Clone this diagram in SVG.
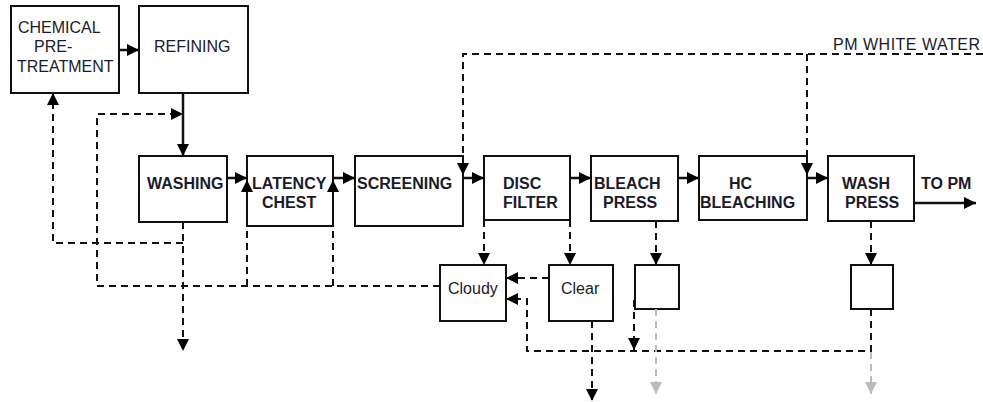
<svg xmlns="http://www.w3.org/2000/svg" width="983" height="402" viewBox="0 0 983 402">
<style>
.box{fill:#fff;stroke:#111;stroke-width:2}
.t{font-family:"Liberation Sans",Arial,sans-serif;font-size:16px;fill:#1a1a2a}
.b{font-weight:bold}
.s{fill:none;stroke:#111;stroke-width:2.5}
.d{fill:none;stroke:#111;stroke-width:2;stroke-dasharray:7,5}
.g{fill:none;stroke:#bbb;stroke-width:2;stroke-dasharray:7,5}
</style>
<defs>
<marker id="a" viewBox="0 0 10 10" refX="10" refY="5" markerWidth="12" markerHeight="12" markerUnits="userSpaceOnUse" orient="auto"><path d="M0,0 L10,5 L0,10 z" fill="#000"/></marker>
<marker id="ag" viewBox="0 0 10 10" refX="10" refY="5" markerWidth="12" markerHeight="12" markerUnits="userSpaceOnUse" orient="auto"><path d="M0,0 L10,5 L0,10 z" fill="#bbb"/></marker>
</defs>
<rect width="983" height="402" fill="#fff"/>
<g id="chemical-pretreatment"><rect class="box" x="11" y="6" width="108" height="87"/><text class="t" x="18" y="33">CHEMICAL</text><text class="t" x="34" y="52">PRE-</text><text class="t" x="17" y="72">TREATMENT</text></g>
<g id="refining"><rect class="box" x="139" y="6" width="109" height="87"/><text class="t" x="154" y="52">REFINING</text></g>
<g id="washing"><rect class="box" x="139" y="156" width="88" height="66"/><text class="t b" x="147" y="189">WASHING</text></g>
<g id="latency-chest"><rect class="box" x="247" y="156" width="86" height="70"/><text class="t b" x="252" y="189">LATENCY</text><text class="t b" x="262" y="208">CHEST</text></g>
<g id="screening"><rect class="box" x="355" y="156" width="108" height="70"/><text class="t b" x="357" y="189">SCREENING</text></g>
<g id="disc-filter"><rect class="box" x="484" y="156" width="86" height="64"/><text class="t b" x="503" y="189">DISC</text><text class="t b" x="503" y="208">FILTER</text></g>
<g id="bleach-press"><rect class="box" x="591" y="156" width="87" height="65"/><text class="t b" x="594" y="189">BLEACH</text><text class="t b" x="603" y="208">PRESS</text></g>
<g id="hc-bleaching"><rect class="box" x="699" y="156" width="108" height="64"/><text class="t b" x="729" y="189">HC</text><text class="t b" x="700" y="208">BLEACHING</text></g>
<g id="wash-press"><rect class="box" x="828" y="156" width="86" height="65"/><text class="t b" x="842" y="189">WASH</text><text class="t b" x="845" y="208">PRESS</text></g>
<g id="to-pm"><text class="t b" x="921" y="189">TO PM</text></g>
<g id="pm-white-water"><text class="t" x="833" y="50" textLength="147">PM WHITE WATER</text></g>
<g id="cloudy"><rect class="box" x="440" y="265" width="66" height="56"/><text class="t" x="448" y="294">Cloudy</text></g>
<g id="clear"><rect class="box" x="549" y="265" width="64" height="56"/><text class="t" x="561" y="294">Clear</text></g>
<g id="bleach-tank"><rect class="box" x="635" y="265" width="44" height="44"/></g>
<g id="wash-tank"><rect class="box" x="851" y="265" width="42" height="44"/></g>
<g id="connectors">
<path class="s" d="M119,50 H139" marker-end="url(#a)"/>
<path class="s" d="M183,93 V156" marker-end="url(#a)"/>
<path class="s" d="M227,178 H247" marker-end="url(#a)"/>
<path class="s" d="M334,178 H355" marker-end="url(#a)"/>
<path class="s" d="M463,178 H484" marker-end="url(#a)"/>
<path class="s" d="M570,178 H591" marker-end="url(#a)"/>
<path class="s" d="M678,178 H699" marker-end="url(#a)"/>
<path class="s" d="M807,178 H828" marker-end="url(#a)"/>
<path class="s" d="M914,203 H976" marker-end="url(#a)"/>
<path class="d" d="M183,222 V351" marker-end="url(#a)"/>
<path class="d" d="M183,243 H53 V93" marker-end="url(#a)"/>
<path class="d" d="M440,286 H97 V114 H183" marker-end="url(#a)"/>
<path class="d" d="M247,286 V180" marker-end="url(#a)"/>
<path class="d" d="M333,286 V180" marker-end="url(#a)"/>
<path class="d" d="M983,54 H463 V175" marker-end="url(#a)"/>
<path class="d" d="M807,54 V175" marker-end="url(#a)"/>
<path class="d" d="M484,220 V265" marker-end="url(#a)"/>
<path class="d" d="M570,220 V265" marker-end="url(#a)"/>
<path class="d" d="M549,278 H506" marker-end="url(#a)"/>
<path class="d" d="M656,221 V265" marker-end="url(#a)"/>
<path class="d" d="M871,221 V265" marker-end="url(#a)"/>
<path class="d" d="M871,309 V351 H527 V299 H506" marker-end="url(#a)"/>
<path class="d" d="M634,300 V350" marker-end="url(#a)"/>
<path class="d" d="M592,321 V401" marker-end="url(#a)"/>
<path class="g" d="M656,309 V394" marker-end="url(#ag)"/>
<path class="g" d="M871,352 V394" marker-end="url(#ag)"/>
</g>
</svg>
